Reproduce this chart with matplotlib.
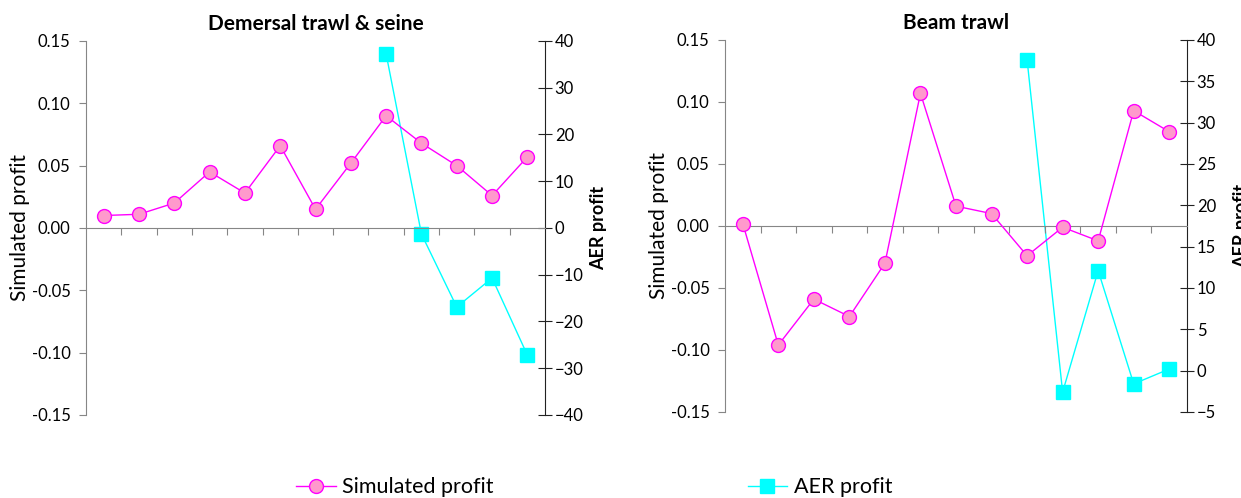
import numpy as np
import matplotlib.pyplot as plt
from matplotlib.lines import Line2D

plt.rcParams['font.family'] = ['Lato', 'DejaVu Sans']

n_cat = 13
cats = np.arange(n_cat)

# Demersal trawl & seine
dts_sim = [0.010, 0.011, 0.020, 0.045, 0.028, 0.066, 0.015,
           0.052, 0.090, 0.068, 0.050, 0.026, 0.057]
dts_aer = [np.nan] * 8 + [37.2, -1.3, -16.9, -10.7, -27.2]

# Beam trawl
bt_sim = [0.002, -0.096, -0.059, -0.073, -0.030, 0.107, 0.016,
          0.010, -0.024, -0.001, -0.012, 0.093, 0.076]
bt_aer = [np.nan] * 8 + [37.6, -2.6, 12.1, -1.6, 0.2]

sim_left_ticks = [-0.15, -0.10, -0.05, 0.00, 0.05, 0.10, 0.15]
dts_right_ticks = [-40, -30, -20, -10, 0, 10, 20, 30, 40]
bt_right_ticks = [-5, 0, 5, 10, 15, 20, 25, 30, 35, 40]

MAG = '#FF00FF'
PINK = '#FF99CC'
CYAN = '#00FFFF'
GREY = '#868686'

fig = plt.figure(figsize=(12.41, 4.98), dpi=100)


def panel(rect, title, sim, aer, rticks, rpad):
    ax = fig.add_axes(rect)
    ax2 = ax.twinx()

    ax.plot(cats, sim, color=MAG, lw=1.0, marker='o', ms=10,
            mfc=PINK, mec=MAG, mew=1.0, zorder=3)
    ax2.plot(cats, aer, color=CYAN, lw=1.0, marker='s', ms=10,
             mfc=CYAN, mec=CYAN, zorder=3)

    ax.set_xlim(-0.5, n_cat - 0.5)
    ax.set_ylim(-0.15, 0.15)
    ax.set_yticks(sim_left_ticks)
    ax.set_yticklabels(['%.2f' % v for v in sim_left_ticks])
    ax.set_ylabel('Simulated profit', fontsize=15, labelpad=1)
    ax.set_title(title, fontsize=15, fontweight='bold', pad=8)

    # category axis sits on the zero line
    ax.spines['bottom'].set_position(('data', 0))
    ax.spines['bottom'].set_color(GREY)
    ax.spines['top'].set_visible(False)
    ax.spines['right'].set_visible(False)
    ax.spines['left'].set_color(GREY)
    ax.set_xticks(np.arange(0.5, n_cat - 1, 1.0))
    ax.set_xticklabels([])
    ax.tick_params(axis='x', direction='out', length=5, color=GREY)
    ax.tick_params(axis='y', direction='out', length=5, color=GREY,
                   labelsize=12, pad=6)

    ax2.set_ylim(rticks[0], rticks[-1])
    ax2.set_yticks(rticks)
    ax2.set_ylabel('AER profit', fontsize=13, fontweight='bold', labelpad=rpad)
    for s in ['top', 'bottom', 'left']:
        ax2.spines[s].set_visible(False)
    ax2.spines['right'].set_color('#222222')
    ax2.tick_params(axis='y', direction='inout', length=10, color='#222222',
                    labelsize=12, pad=2)
    ax.set_zorder(ax2.get_zorder() + 1)
    ax.patch.set_visible(False)
    return ax, ax2


panel([0.0693, 0.1667, 0.3699, 0.7510], 'Demersal trawl & seine',
      dts_sim, dts_aer, dts_right_ticks, 5)
panel([0.5842, 0.1727, 0.3723, 0.7470], 'Beam trawl',
      bt_sim, bt_aer, bt_right_ticks, 12)

handles = [
    Line2D([], [], color=MAG, lw=1.0, marker='o', ms=10, mfc=PINK, mec=MAG),
    Line2D([], [], color=CYAN, lw=1.0, marker='s', ms=10, mfc=CYAN, mec=CYAN),
]
fig.legend(handles, ['Simulated profit', 'AER profit'], loc='center',
           bbox_to_anchor=(0.4787, 0.022), ncol=2, frameon=False,
           fontsize=15.5, columnspacing=11.8, handlelength=1.85,
           handletextpad=0.3, borderpad=0)

fig.savefig('out.png', dpi=100)
